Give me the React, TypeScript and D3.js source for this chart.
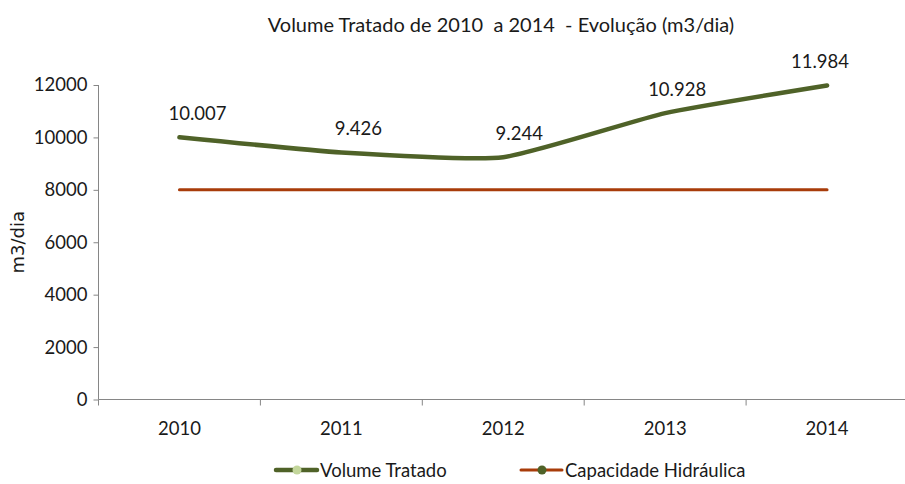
import React, { useEffect, useRef } from 'react';
import * as d3 from 'd3';

const years = ['2010', '2011', '2012', '2013', '2014'];
const volumeTratado = [10007, 9426, 9244, 10928, 11984];
const capacidadeHidraulica = [8000, 8000, 8000, 8000, 8000];
const volumeLabels = ['10.007', '9.426', '9.244', '10.928', '11.984'];
const yTicks = [0, 2000, 4000, 6000, 8000, 10000, 12000];

const labelDx = [18, 17, 16, 12, -7];

const FONT = 'Lato, "Open Sans", sans-serif';
const GREEN = '#4f6228';
const LIGHT = '#c3d69b';
const RUST = '#a83c0a';

const App = () => {
    const svgRef = useRef<SVGSVGElement>(null);

    useEffect(() => {
        const svg = d3.select(svgRef.current);
        svg.selectAll('*').remove();

        const x = d3.scaleBand().domain(years).range([98.5, 908]);
        const y = d3.scaleLinear().domain([0, 12000]).range([399.5, 85]);
        const cx = (d: string) => (x(d) as number) + x.bandwidth() / 2;

        svg.append('text')
            .attr('x', 501).attr('y', 32)
            .attr('text-anchor', 'middle')
            .style('font-family', FONT).style('font-size', '20px')
            .style('white-space', 'pre')
            .attr('fill', '#1a1a1a')
            .text('Volume Tratado de 2010  a 2014  - Evolução (m3/dia)');

        // y axis
        const yAxis = svg.append('g').attr('transform', 'translate(98.5,0)')
            .call(d3.axisLeft(y).tickValues(yTicks).tickSize(5).tickPadding(6).tickFormat(d3.format('d')));
        yAxis.select('.domain').attr('stroke', '#868686').attr('d', `M0,${y(12000)}V${y(0)}`);
        yAxis.selectAll('line').attr('stroke', '#868686');
        yAxis.selectAll('text').style('font-family', FONT).style('font-size', '18.5px').attr('fill', '#1a1a1a');

        // x axis
        const xAxis = svg.append('g').attr('transform', `translate(0,${y(0)})`)
            .call(d3.axisBottom(x).tickSize(0).tickPadding(22));
        xAxis.select('.domain').attr('stroke', '#868686').attr('d', 'M98.5,0H905');
        xAxis.selectAll('text').style('font-family', FONT).style('font-size', '18.5px').attr('fill', '#1a1a1a');
        const bounds = years.map((d) => x(d) as number);
        xAxis.selectAll('.sep').data(bounds).join('line')
            .attr('x1', (d) => d).attr('x2', (d) => d)
            .attr('y1', 0).attr('y2', 6)
            .attr('stroke', '#868686');

        svg.append('text')
            .attr('transform', `translate(24,${y(6000)}) rotate(-90)`)
            .attr('text-anchor', 'middle')
            .style('font-family', '"DejaVu Sans", sans-serif').style('font-size', '18px')
            .attr('fill', '#1a1a1a')
            .text('m3/dia');

        // capacity line
        const capLine = d3.line<number>()
            .x((d, i) => cx(years[i]))
            .y((d) => y(d));
        svg.append('path').datum(capacidadeHidraulica)
            .attr('d', capLine)
            .attr('fill', 'none').attr('stroke', RUST).attr('stroke-width', 3)
            .attr('stroke-linecap', 'round');

        // volume line (Excel-like smoothing)
        const volLine = d3.line<number>()
            .x((d, i) => cx(years[i]))
            .y((d) => y(d))
            .curve(d3.curveCardinal.tension(0.5));
        svg.append('path').datum(volumeTratado)
            .attr('d', volLine)
            .attr('fill', 'none').attr('stroke', GREEN).attr('stroke-width', 4.5)
            .attr('stroke-linecap', 'round');

        svg.selectAll('.vlabel').data(volumeTratado).join('text')
            .attr('x', (d, i) => cx(years[i]) + labelDx[i])
            .attr('y', (d) => y(d) - 17)
            .attr('text-anchor', 'middle')
            .style('font-family', FONT).style('font-size', '18.5px')
            .attr('fill', '#1a1a1a')
            .text((d, i) => volumeLabels[i]);

        // legend
        const legend = [
            { name: 'Volume Tratado', stroke: GREEN, marker: LIGHT, x0: 276, w: 4.5 },
            { name: 'Capacidade Hidráulica', stroke: RUST, marker: GREEN, x0: 521, w: 3 },
        ];
        const lg = svg.append('g').attr('transform', 'translate(0,470)');
        legend.forEach((l) => {
            lg.append('line').attr('x1', l.x0).attr('x2', l.x0 + 41).attr('y1', 0).attr('y2', 0)
                .attr('stroke', l.stroke).attr('stroke-width', l.w).attr('stroke-linecap', 'round');
            lg.append('circle').attr('cx', l.x0 + 21).attr('cy', 0).attr('r', 4.5).attr('fill', l.marker);
            lg.append('text').attr('x', l.x0 + 44).attr('y', 6.5)
                .style('font-family', FONT).style('font-size', '18.5px').attr('fill', '#1a1a1a')
                .text(l.name);
        });
    }, []);

    return (
        <svg ref={svgRef} width={905} height={484} style={{ position: 'absolute', left: 0, top: 0, background: '#fff' }} />
    );
};

export default App;
